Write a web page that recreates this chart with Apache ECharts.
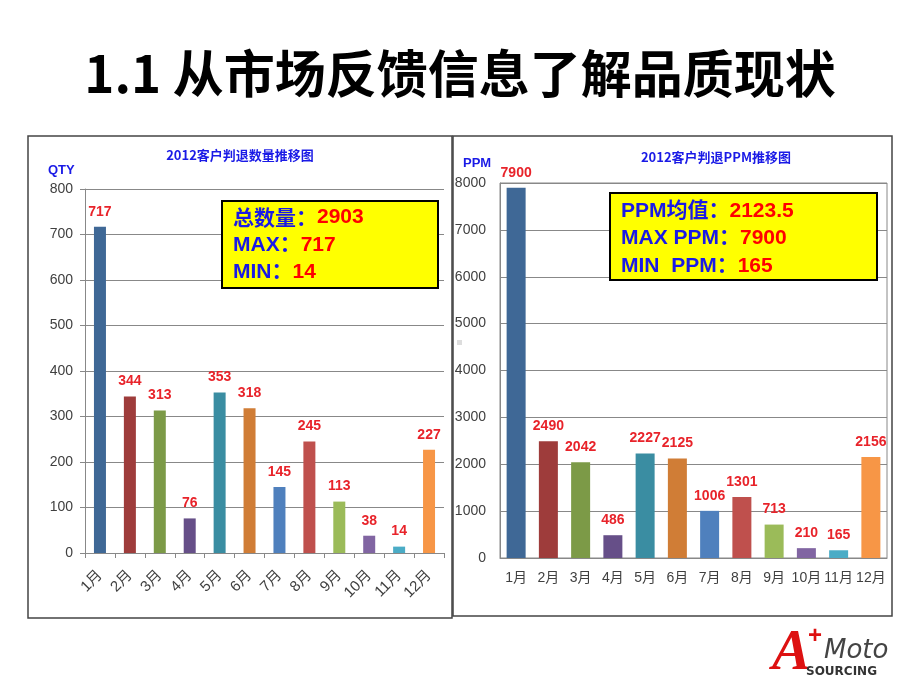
<!DOCTYPE html>
<html><head><meta charset="utf-8">
<script src="https://cdn.jsdelivr.net/npm/echarts@6/dist/echarts.min.js"></script>
<style>html,body{margin:0;padding:0;background:#fff}#c{width:920px;height:690px}</style>
</head><body><div id="c"></div>
<script>
const months = ['1月','2月','3月','4月','5月','6月','7月','8月','9月','10月','11月','12月'];
const qtyValues = [717,344,313,76,353,318,145,245,113,38,14,227];
const ppmValues = [7900,2490,2042,486,2227,2125,1006,1301,713,210,165,2156];
const qtyTicks = {min:0, max:800, interval:100};
const ppmTicks = {min:0, max:8000, interval:1000};
const barColors = ['#3F6896','#9E3C3B','#7C9A47','#664F88','#3A8DA2','#D07D36','#4F80BD','#BF504D','#9BBB59','#8165A2','#4BACC6','#F79646'];

const font = '"Liberation Sans", Arial, "Noto Sans CJK SC", sans-serif';
const blue = '#1A1AE6', red = '#FF0000', gray = '#404040';

function mkData(vals){ return vals.map((v,i)=>({value:v, itemStyle:{color:barColors[i]}})); }

const chart = echarts.init(document.getElementById('c'), null, {renderer:'canvas'});
chart.setOption({
  animation:false,
  textStyle:{fontFamily:font},
  grid:[
    {left:85, right:476, top:189, bottom:137},
    {left:500, right:33, top:183, bottom:132, show:true, borderColor:'#888', borderWidth:1, backgroundColor:'transparent'}
  ],
  xAxis:[
    {gridIndex:0, type:'category', data:months,
     axisLine:{lineStyle:{color:'#888'}}, axisTick:{show:true, lineStyle:{color:'#888'}, length:5},
     axisLabel:{rotate:45, color:gray, fontSize:15, margin:20, fontFamily:font, interval:0}},
    {gridIndex:1, type:'category', data:months,
     axisLine:{lineStyle:{color:'#888'}}, axisTick:{show:false},
     axisLabel:{color:gray, fontSize:14, margin:13, fontFamily:font, interval:0}}
  ],
  yAxis:[
    {gridIndex:0, type:'value', min:qtyTicks.min, max:qtyTicks.max, interval:qtyTicks.interval,
     axisLine:{show:true, lineStyle:{color:'#888'}}, axisTick:{show:true, length:5, lineStyle:{color:'#888'}},
     splitLine:{lineStyle:{color:'#888'}},
     axisLabel:{color:gray, fontSize:14, margin:12, fontFamily:font, formatter:v=>String(v)}},
    {gridIndex:1, type:'value', min:ppmTicks.min, max:ppmTicks.max, interval:ppmTicks.interval,
     axisLine:{show:true, lineStyle:{color:'#888'}}, axisTick:{show:false},
     splitLine:{lineStyle:{color:'#888'}},
     axisLabel:{color:gray, fontSize:14, margin:14, fontFamily:font, formatter:v=>String(v)}}
  ],
  series:[
    {type:'bar', xAxisIndex:0, yAxisIndex:0, data:mkData(qtyValues), barWidth:12,
     label:{show:true, position:'top', distance:8, color:'#E8232A', fontWeight:'bold', fontSize:14, fontFamily:font}},
    {type:'bar', xAxisIndex:1, yAxisIndex:1, data:mkData(ppmValues), barWidth:19,
     label:{show:true, position:'top', distance:8, color:'#E8232A', fontWeight:'bold', fontSize:14, fontFamily:font}}
  ],
  graphic:[
    {type:'text', left:'center', top:48, style:{text:'1.1 从市场反馈信息了解品质现状', font:'bold 51px "Noto Sans CJK SC", sans-serif', fill:'#000'}},
    {type:'rect', shape:{x:28, y:136, width:424, height:482}, style:{fill:'none', stroke:'#444', lineWidth:1.5}, z:0},
    {type:'rect', shape:{x:453, y:136, width:439, height:480}, style:{fill:'none', stroke:'#444', lineWidth:1.5}, z:0},
    {type:'text', x:240, y:155, style:{text:'2012客户判退数量推移图', font:'bold 13px "Noto Sans CJK SC", sans-serif', fill:blue, align:'center', verticalAlign:'middle'}},
    {type:'text', x:716, y:157, style:{text:'2012客户判退PPM推移图', font:'bold 13px "Noto Sans CJK SC", sans-serif', fill:blue, align:'center', verticalAlign:'middle'}},
    {type:'text', x:48, y:170, style:{text:'QTY', font:'bold 13px '+font, fill:blue, verticalAlign:'middle'}},
    {type:'text', x:463, y:163, style:{text:'PPM', font:'bold 13px '+font, fill:blue, verticalAlign:'middle'}},
    {type:'rect', shape:{x:222, y:201, width:216, height:87}, style:{fill:'#FFFF00', stroke:'#000', lineWidth:2}, z:10},
    {type:'text', x:233, y:217, z:11, style:{text:'{b|总数量：}{r|2903}', verticalAlign:'middle', rich:{b:{fill:blue, font:'bold 21px "Noto Sans CJK SC", sans-serif'}, r:{fill:red, font:'bold 21px '+font}}}},
    {type:'text', x:233, y:245, z:11, style:{text:'{b|MAX：}{r|717}', verticalAlign:'middle', rich:{b:{fill:blue, font:'bold 21px '+font}, r:{fill:red, font:'bold 21px '+font}}}},
    {type:'text', x:233, y:272, z:11, style:{text:'{b|MIN：}{r|14}', verticalAlign:'middle', rich:{b:{fill:blue, font:'bold 21px '+font}, r:{fill:red, font:'bold 21px '+font}}}},
    {type:'rect', shape:{x:610, y:193, width:267, height:87}, style:{fill:'#FFFF00', stroke:'#000', lineWidth:2}, z:10},
    {type:'text', x:621, y:211, z:11, style:{text:'{b|PPM均值：}{r|2123.5}', verticalAlign:'middle', rich:{b:{fill:blue, font:'bold 21px '+font}, r:{fill:red, font:'bold 21px '+font}}}},
    {type:'text', x:621, y:238, z:11, style:{text:'{b|MAX PPM：}{r|7900}', verticalAlign:'middle', rich:{b:{fill:blue, font:'bold 21px '+font}, r:{fill:red, font:'bold 21px '+font}}}},
    {type:'text', x:621, y:266, z:11, style:{text:'{b|MIN  PPM：}{r|165}', verticalAlign:'middle', rich:{b:{fill:blue, font:'bold 21px '+font}, r:{fill:red, font:'bold 21px '+font}}}},
    {type:'rect', shape:{x:457, y:340, width:5, height:5}, style:{fill:'#ddd'}},
    {type:'text', x:772, y:625, style:{text:'A', font:'italic bold 58px "Liberation Serif", serif', fill:'#D11'}},
    {type:'text', x:808, y:624, style:{text:'+', font:'bold 24px '+font, fill:'#D11'}},
    {type:'text', x:824, y:638, style:{text:'Moto', font:'italic 26px "DejaVu Sans", sans-serif', fill:'#444'}},
    {type:'text', x:806, y:666, style:{text:'SOURCING', font:'bold 12px "DejaVu Sans", sans-serif', fill:'#333'}}
  ]
});
</script></body></html>
